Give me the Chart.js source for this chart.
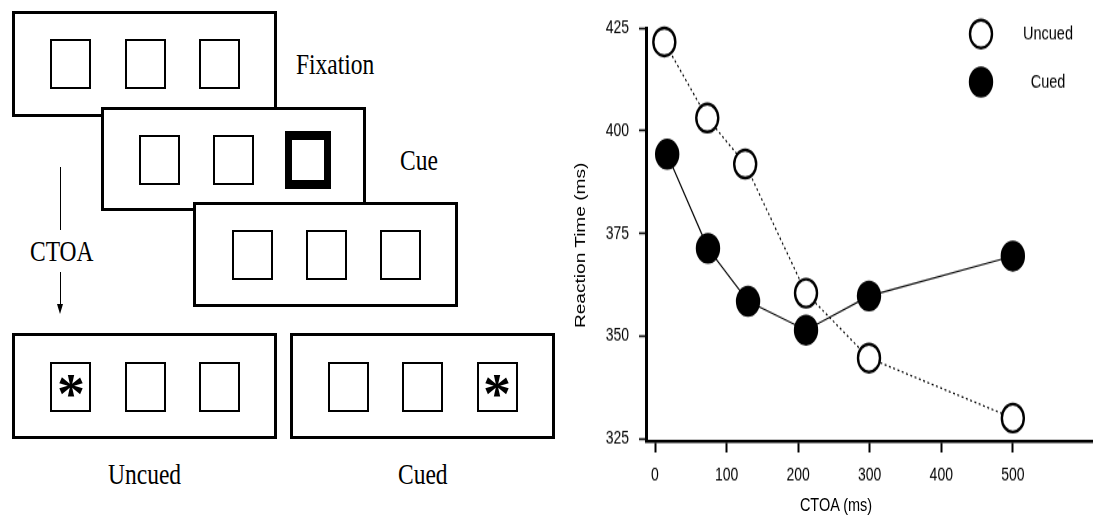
<!DOCTYPE html>
<html>
<head>
<meta charset="utf-8">
<script src="https://cdn.jsdelivr.net/npm/chart.js@4/dist/chart.umd.min.js"></script>
<style>
    html, body { margin: 0; padding: 0; background: #fff; }
    body { width: 1093px; height: 516px; position: relative; overflow: hidden; }
    .frame { position: absolute; box-sizing: border-box; border: 3px solid #000; background: #fff; }
    .sq { position: absolute; box-sizing: border-box; width: 41px; height: 50px; border: 2px solid #000; background: #fff; }
    .sq.cue { width: 46px; height: 58px; border-width: 9px 7px; }
    .lbl { position: absolute; font-family: 'Liberation Serif', 'Times New Roman', serif; font-size: 23.5px;
           line-height: 23.5px; white-space: nowrap; transform: scaleY(1.28); color: #000; }
    .star { position: absolute; width: 40px; text-align: center; font-family: 'Liberation Serif', serif;
            font-weight: bold; font-size: 56px; line-height: 56px; }
    .vline { position: absolute; width: 1.5px; background: #000; }
    .arrowhead { position: absolute; width: 0; height: 0; border-left: 3.5px solid transparent;
                 border-right: 3.5px solid transparent; border-top: 10px solid #000; }
    #plot { position: absolute; left: 560px; top: 0; width: 533px; height: 406px;
            transform: scaleY(1.271); transform-origin: 0 0; }
    .axtitle { position: absolute; font-family: 'Liberation Sans', Arial, sans-serif; font-size: 14.5px;
               line-height: 16px; white-space: nowrap; color: #000; }
</style>
</head>
<body>

<!-- Trial sequence diagram -->
<div class="frame" style="left:12px;top:11px;width:265px;height:106px;"></div>
<div class="sq" style="left:50px;top:39px;"></div>
<div class="sq" style="left:125px;top:39px;"></div>
<div class="sq" style="left:199px;top:39px;"></div>
<div class="lbl" style="left:296px;top:53px;">Fixation</div>

<div class="frame" style="left:101px;top:107px;width:265px;height:104px;"></div>
<div class="sq" style="left:139px;top:135px;"></div>
<div class="sq" style="left:213px;top:135px;"></div>
<div class="sq cue" style="left:285px;top:131px;"></div>
<div class="lbl" style="left:400px;top:149px;">Cue</div>

<div class="frame" style="left:193px;top:202px;width:265px;height:105px;"></div>
<div class="sq" style="left:232px;top:230px;"></div>
<div class="sq" style="left:306px;top:230px;"></div>
<div class="sq" style="left:380px;top:230px;"></div>

<div class="vline" style="left:59.5px;top:167px;height:63px;"></div>
<div class="lbl" style="left:30px;top:240px;">CTOA</div>
<div class="vline" style="left:59.5px;top:272px;height:34px;"></div>
<div class="arrowhead" style="left:56.5px;top:304px;"></div>

<div class="frame" style="left:12px;top:333px;width:265px;height:106px;"></div>
<div class="sq" style="left:50px;top:362px;"></div>
<div class="star" style="left:51px;top:366px;">*</div>
<div class="sq" style="left:125px;top:362px;"></div>
<div class="sq" style="left:199px;top:362px;"></div>
<div class="lbl" style="left:108px;top:463px;">Uncued</div>

<div class="frame" style="left:290px;top:333px;width:265px;height:106px;"></div>
<div class="sq" style="left:328px;top:362px;"></div>
<div class="sq" style="left:402px;top:362px;"></div>
<div class="sq" style="left:477px;top:362px;"></div>
<div class="star" style="left:477px;top:366px;">*</div>
<div class="lbl" style="left:398px;top:463px;">Cued</div>

<!-- Reaction time plot -->
<div id="plot">
    <canvas id="rtChart"></canvas>
    <div class="axtitle" style="left:20px;top:193px;font-size:15px;transform:translate(-50%,-50%) rotate(-90deg);">Reaction Time (ms)</div>
    <div class="axtitle" style="left:276px;top:397px;transform:translate(-50%,-50%);">CTOA (ms)</div>
</div>

<script>
// ---- data ----
const seriesNames = ['Uncued', 'Cued'];
const uncuedCtoa = [13, 73, 126, 211, 299, 500];
const uncuedRT = [421.6, 403.1, 391.9, 360.5, 344.7, 330.1];
const cuedCtoa = [17, 74, 130, 211, 299, 500];
const cuedRT = [394.3, 371.4, 358.5, 351.5, 359.8, 369.5];
const xTicks = [0, 100, 200, 300, 400, 500];
const yTicks = [325, 350, 375, 400, 425];

const toPoints = (xs, ys) => xs.map((x, i) => ({ x: x, y: ys[i] }));

Chart.defaults.font.family = "'Liberation Sans', Arial, sans-serif";
Chart.defaults.color = '#000';

// legend drawn in the upper right, symbols taken from the datasets
const cornerLegend = {
    id: 'cornerLegend',
    afterDraw(chart) {
        const ctx = chart.ctx;
        const rows = [26.7, 64.5];
        ctx.save();
        chart.data.datasets.forEach((ds, i) => {
            ctx.beginPath();
            ctx.arc(421, rows[i], ds.pointRadius, 0, Math.PI * 2);
            ctx.fillStyle = ds.pointBackgroundColor;
            ctx.fill();
            ctx.lineWidth = ds.pointBorderWidth;
            ctx.strokeStyle = ds.pointBorderColor;
            ctx.stroke();
            ctx.fillStyle = '#000';
            ctx.font = "14.5px 'Liberation Sans', Arial, sans-serif";
            ctx.textAlign = 'center';
            ctx.textBaseline = 'middle';
            ctx.fillText(ds.label, 488, rows[i]);
        });
        ctx.restore();
    }
};

new Chart(document.getElementById('rtChart'), {
    type: 'scatter',
    data: {
        datasets: [{
            label: seriesNames[0],
            data: toPoints(uncuedCtoa, uncuedRT),
            showLine: true,
            borderColor: '#000',
            borderWidth: 1.2,
            borderDash: [2, 2.5],
            pointRadius: 11,
            pointHoverRadius: 11,
            pointBackgroundColor: '#fff',
            pointBorderColor: '#000',
            pointBorderWidth: 2.4,
            clip: false
        }, {
            label: seriesNames[1],
            data: toPoints(cuedCtoa, cuedRT),
            showLine: true,
            borderColor: '#000',
            borderWidth: 1.2,
            pointRadius: 11,
            pointHoverRadius: 11,
            pointBackgroundColor: '#000',
            pointBorderColor: '#000',
            pointBorderWidth: 2.4,
            clip: false
        }]
    },
    options: {
        responsive: true,
        maintainAspectRatio: false,
        animation: false,
        layout: { autoPadding: false, padding: { top: 22, left: 0, right: 0, bottom: 0 } },
        plugins: { legend: { display: false }, tooltip: { enabled: false } },
        scales: {
            x: {
                type: 'linear',
                min: -12.6,
                max: 612,
                afterBuildTicks: s => { s.ticks = xTicks.map(v => ({ value: v })); },
                afterFit: s => { s.height = 59; },
                border: { display: true, color: '#000', width: 2.4 },
                grid: { drawOnChartArea: false, drawTicks: true, tickLength: 9, tickWidth: 2, tickColor: '#000' },
                ticks: { font: { size: 14 }, padding: 10, maxRotation: 0 }
            },
            y: {
                min: 324.5,
                max: 425,
                afterBuildTicks: s => { s.ticks = yTicks.map(v => ({ value: v })); },
                afterFit: s => { s.width = 86; },
                border: { display: true, color: '#000', width: 3 },
                grid: { drawOnChartArea: false, drawTicks: true, tickLength: 7, tickWidth: 1.6, tickColor: '#000' },
                ticks: { font: { size: 14 }, padding: 10 }
            }
        }
    },
    plugins: [cornerLegend]
});
</script>
</body>
</html>
